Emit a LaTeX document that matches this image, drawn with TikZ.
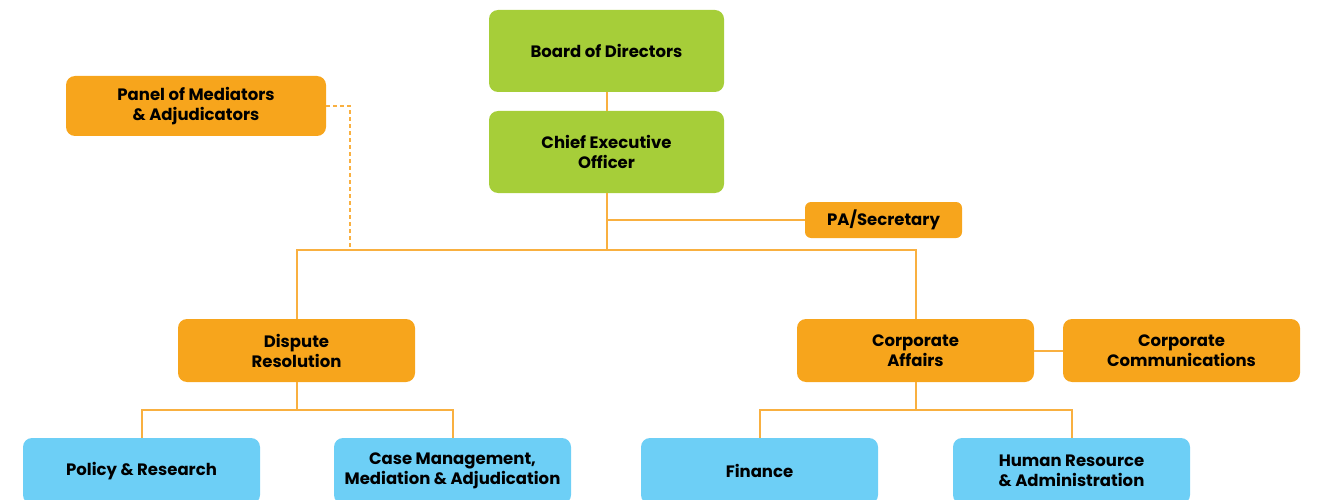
\documentclass[tikz,border=0pt]{standalone}
\usepackage{fontspec}
\setmainfont{Poppins}
\definecolor{grn}{HTML}{A6CE39}
\definecolor{org}{HTML}{F7A51C}
\definecolor{blu}{HTML}{6DCFF6}
\definecolor{lin}{HTML}{F9B040}
\begin{document}
\begin{tikzpicture}[x=1pt,y=-1pt,
  box/.style={rounded corners=9pt, minimum width=237pt, align=center, inner sep=0pt,
    font=\fontsize{16.5}{20}\selectfont\bfseries, text=black},
  gbox/.style={box, fill=grn, minimum height=82pt, minimum width=235pt},
  obox/.style={box, fill=org, minimum height=63pt},
  bbox/.style={box, fill=blu, minimum height=66pt},
  conn/.style={draw=lin, line width=2pt}]
\useasboundingbox (0,0) rectangle (1323,500);
\node[gbox] (board) at (606.5,51) {Board of Directors};
\node[gbox] (ceo) at (606.5,152) {Chief Executive\\Officer};
\node[box, fill=org, minimum width=260pt, minimum height=60pt] (panel) at (196,106) {Panel of Mediators\\\& Adjudicators};
\node[box, fill=org, minimum width=157pt, minimum height=36pt, rounded corners=6pt] (pa) at (883.5,220) {PA/Secretary};
\node[obox] (dr) at (296.5,350.5) {Dispute\\Resolution};
\node[obox] (ca) at (915.5,350.5) {Corporate\\Affairs};
\node[obox] (cc) at (1181.5,350.5) {Corporate\\Communications};
\node[bbox] (pr) at (141.5,471) {Policy \& Research};
\node[bbox] (cm) at (452.5,471) {Case Management,\\Mediation \& Adjudication};
\node[bbox] (fin) at (759.5,471) {Finance};
\node[bbox] (hr) at (1071.5,471) {Human Resource\\\& Administration};
\coordinate (j1) at (606.5,250);
\coordinate (j2) at (296.5,410);
\coordinate (j3) at (915.5,410);
\draw[conn] (board.south) -- (ceo.north);
\draw[conn] (ceo.south) -- (j1);
\draw[conn] (dr.north) |- (j1) -| (ca.north);
\draw[conn] (ceo.south |- pa.west) -- (pa.west);
\draw[conn, dash pattern=on 4pt off 3pt] (panel.east) -| (350,250);
\draw[conn] (dr.south) -- (j2);
\draw[conn] (pr.north) |- (j2) -| (cm.north);
\draw[conn] (ca.south) -- (j3);
\draw[conn] (fin.north) |- (j3) -| (hr.north);
\draw[conn] (ca.east) -- (cc.west);
\end{tikzpicture}
\end{document}
